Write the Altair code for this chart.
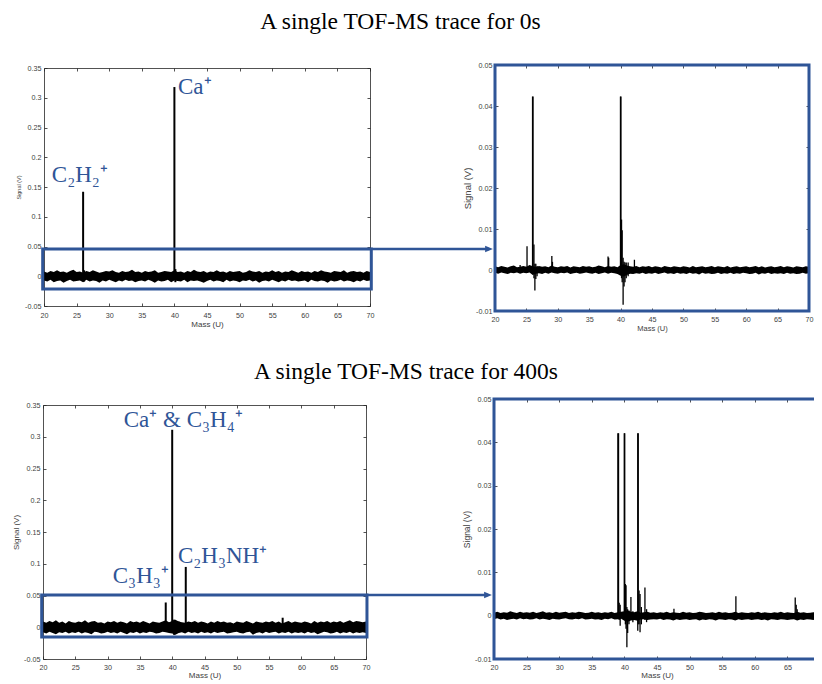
import altair as alt
import pandas as pd

W, H = 806, 676
BLUE = "#2F5597"
INK = "#262626"
LAB = "#404040"
SANS = "Liberation Sans"
SERIF = "Liberation Serif"

# ---------------- data ----------------
mass_grid = [20 + 0.5 * i for i in range(101)]
x_ticks = [20, 25, 30, 35, 40, 45, 50, 55, 60, 65, 70]
y_ticks_full = [-0.05, 0, 0.05, 0.1, 0.15, 0.2, 0.25, 0.3, 0.35]
y_ticks_zoom = [-0.01, 0, 0.01, 0.02, 0.03, 0.04, 0.05]

# noise envelope, 0 s trace, full scale (mV)
p1_hi = [8, 6, 9, 7, 10, 7, 8, 6, 9, 11,
         7, 8, 6, 9, 7, 10, 8, 6, 7, 9,
         8, 10, 7, 6, 9, 7, 8, 11, 7, 8,
         6, 9, 7, 8, 10, 6, 7, 9, 8, 7,
         10, 7, 8, 6, 9, 7, 11, 8, 7, 9,
         6, 8, 7, 10, 7, 8, 6, 9, 7, 8,
         9, 6, 7, 10, 8, 7, 9, 6, 8, 7,
         10, 7, 9, 6, 8, 7, 10, 8, 6, 9,
         7, 8, 6, 9, 7, 10, 8, 7, 6, 9,
         8, 7, 10, 6, 8, 9, 7, 8, 6, 9,
         7]
p1_lo = [-7, -9, -6, -10, -8, -7, -11, -8, -6, -9,
         -8, -7, -10, -6, -9, -7, -8, -11, -7, -9,
         -6, -8, -10, -7, -9, -6, -8, -7, -10, -8,
         -7, -9, -6, -8, -11, -7, -9, -8, -6, -10,
         -7, -8, -9, -6, -10, -7, -8, -7, -9, -11,
         -8, -6, -9, -7, -8, -10, -6, -9, -7, -8,
         -10, -7, -8, -6, -9, -7, -11, -8, -7, -9,
         -6, -8, -10, -7, -9, -6, -8, -7, -9, -8,
         -7, -10, -6, -8, -9, -7, -8, -11, -7, -9,
         -8, -6, -9, -7, -8, -10, -7, -9, -6, -8,
         -7]

# noise envelope, 0 s trace, zoomed (0.1 mV)
p2_hi = [9, 7, 10, 8, 6, 9, 11, 7, 8, 10,
         8, 12, 9, 7, 10, 8, 9, 7, 11, 8,
         7, 9, 8, 10, 6, 9, 8, 7, 10, 8,
         9, 7, 8, 11, 9, 7, 10, 8, 9, 7,
         12, 14, 11, 9, 8, 10, 7, 9, 8, 10,
         7, 9, 8, 6, 10, 8, 7, 9, 8, 7,
         9, 8, 6, 10, 7, 8, 9, 7, 8, 10,
         7, 9, 8, 7, 10, 6, 8, 9, 7, 8,
         9, 7, 8, 10, 7, 9, 6, 8, 9, 7,
         8, 10, 7, 9, 8, 6, 9, 8, 7, 9,
         8]
p2_lo = [-7, -9, -6, -8, -10, -7, -8, -6, -9, -7,
         -8, -6, -12, -9, -8, -10, -7, -9, -6, -8,
         -9, -7, -8, -6, -10, -8, -7, -9, -8, -6,
         -8, -9, -7, -10, -8, -6, -9, -7, -8, -10,
         -14, -16, -12, -9, -10, -8, -9, -7, -10, -8,
         -9, -7, -10, -8, -6, -9, -8, -10, -7, -9,
         -8, -10, -7, -9, -8, -11, -7, -9, -8, -10,
         -9, -7, -10, -8, -9, -7, -10, -8, -9, -7,
         -8, -10, -9, -7, -11, -8, -9, -7, -10, -8,
         -9, -8, -10, -7, -9, -8, -10, -9, -7, -9,
         -8]

# noise envelope, 400 s trace, full scale (mV)
p3_hi = [9, 7, 10, 8, 11, 7, 9, 6, 10, 8,
         7, 9, 8, 11, 7, 9, 10, 7, 8, 6,
         9, 8, 10, 7, 9, 8, 6, 10, 8, 9,
         7, 10, 8, 6, 9, 8, 7, 9, 11, 8,
         10, 12, 9, 8, 7, 9, 8, 10, 7, 9,
         8, 6, 9, 7, 10, 8, 9, 7, 8, 6,
         9, 8, 7, 10, 8, 6, 9, 8, 7, 9,
         8, 10, 7, 9, 6, 8, 10, 7, 9, 8,
         7, 9, 8, 6, 10, 7, 9, 8, 10, 7,
         9, 8, 10, 7, 9, 11, 8, 10, 9, 8,
         9]
p3_lo = [-8, -10, -7, -9, -11, -8, -9, -7, -10, -8,
         -9, -7, -10, -8, -9, -11, -7, -8, -10, -9,
         -7, -9, -8, -10, -7, -9, -11, -8, -9, -7,
         -10, -8, -9, -7, -8, -10, -9, -7, -8, -9,
         -10, -12, -9, -8, -10, -7, -9, -8, -10, -7,
         -9, -8, -10, -7, -9, -8, -7, -10, -9, -8,
         -7, -9, -10, -8, -7, -12, -9, -8, -10, -7,
         -9, -8, -7, -10, -8, -9, -7, -10, -8, -9,
         -8, -10, -7, -9, -8, -11, -9, -7, -8, -10,
         -9, -7, -10, -8, -9, -7, -10, -8, -9, -8,
         -9]

# noise envelope, 400 s trace, zoomed (0.1 mV)
p4_hi = [7, 9, 6, 8, 7, 10, 8, 6, 9, 7,
         8, 7, 9, 6, 8, 10, 7, 8, 6, 9,
         7, 8, 9, 6, 8, 7, 9, 8, 6, 7,
         9, 7, 8, 6, 8, 7, 9, 6, 8, 9,
         10, 12, 9, 8, 10, 7, 8, 9, 7, 8,
         6, 8, 7, 9, 6, 8, 7, 6, 9, 7,
         8, 6, 7, 9, 8, 6, 7, 8, 6, 9,
         7, 8, 6, 7, 9, 6, 8, 7, 6, 8,
         7, 9, 6, 8, 7, 6, 8, 7, 9, 6,
         8, 7, 6, 9, 7, 8, 6, 7, 8, 6,
         7]
p4_lo = [-8, -6, -9, -7, -10, -8, -7, -9, -6, -8,
         -7, -9, -8, -6, -9, -7, -8, -10, -7, -8,
         -9, -7, -6, -8, -9, -7, -8, -6, -9, -8,
         -7, -9, -8, -10, -7, -8, -6, -9, -8, -7,
         -12, -14, -11, -10, -12, -9, -8, -10, -9, -8,
         -9, -7, -10, -8, -9, -11, -8, -10, -9, -8,
         -10, -9, -8, -11, -9, -10, -8, -9, -11, -8,
         -9, -10, -8, -9, -11, -8, -10, -9, -8, -10,
         -9, -8, -10, -9, -11, -8, -9, -10, -8, -9,
         -10, -9, -8, -11, -9, -10, -8, -9, -10, -8,
         -9]

# spikes (mass, top, bottom) in V
p1_spk_mass = [26.0, 40.0, 40.15, 26.15]
p1_spk_top = [0.142, 0.318, 0.012, 0.010]
p1_spk_bot = [-0.004, -0.004, -0.010, -0.009]

p2_spk_mass = [24.0, 25.1, 25.98, 26.05, 26.2, 26.35, 26.5, 26.7, 29.05, 29.15, 38.0,
               38.1, 39.98, 40.05, 40.15, 40.25, 40.4, 40.55, 40.7, 40.9, 41.2, 42.2]
p2_spk_top = [0.0012, 0.0058, 0.0423, 0.0423, 0.0062, 0.0015, 0.0015, 0.001, 0.0034, 0.002,
              0.0033, 0.003, 0.0423, 0.0423, 0.0123, 0.0097, 0.003, 0.002, 0.0018, 0.0018,
              0.0018, 0.0025]
p2_spk_bot = [0, 0, -0.001, -0.001, -0.002, -0.005, -0.0022, -0.0015, 0, 0, 0, 0, -0.001,
              -0.001, -0.002, -0.003, -0.0085, -0.004, -0.003, -0.002, -0.0015, 0]

p3_spk_mass = [39.0, 40.0, 40.3, 40.6, 41.0, 42.1, 57.1]
p3_spk_top = [0.039, 0.311, 0.012, 0.008, 0.009, 0.095, 0.015]
p3_spk_bot = [-0.004, -0.004, -0.012, -0.010, -0.008, -0.004, 0]

p4_spk_mass = [39.0, 39.1, 39.2, 39.35, 39.98, 40.05, 40.15, 40.25, 40.38, 40.5, 40.7, 41.0,
               41.3, 42.05, 42.12, 42.25, 42.4, 42.6, 43.15, 43.4, 47.6, 57.1, 66.2, 66.35, 66.5]
p4_spk_top = [0.0421, 0.0421, 0.003, 0.0025, 0.0421, 0.0421, 0.0073, 0.007, 0.002, 0.0015,
              0.0012, 0.0043, 0.001, 0.0421, 0.0421, 0.0058, 0.005, 0.002, 0.0065, 0.0015,
              0.0016, 0.0045, 0.0042, 0.0025, 0.0015]
p4_spk_bot = [-0.0005, -0.0005, -0.001, -0.0023, -0.0005, -0.0005, -0.002, -0.003, -0.0073,
              -0.004, -0.002, -0.001, -0.0015, -0.0035, -0.002, -0.002, -0.0038, -0.002,
              -0.001, -0.0015, 0, 0, 0, -0.0005, -0.0005]

# peak labels (text, mass, signal)
p1_labels = ["C₂H₂⁺", "Ca⁺"]
p1_lab_mass = [21.2, 40.55]
p1_lab_sig = [0.159, 0.306]
p3_labels = ["Ca⁺ & C₃H₄⁺", "C₂H₃NH⁺", "C₃H₃⁺"]
p3_lab_mass = [32.5, 40.9, 30.8]
p3_lab_sig = [0.316, 0.1015, 0.069]

# zoom-region boxes (mass1, mass2, sig1, sig2)
p1_box = [19.8, 70.2, -0.0215, 0.046]
p3_box = [19.8, 70.15, -0.0154, 0.0508]

titles = ["A single TOF-MS trace for 0s", "A single TOF-MS trace for 400s"]

for arr in (p1_hi, p1_lo, p2_hi, p2_lo, p3_hi, p3_lo, p4_hi, p4_lo):
    assert len(arr) == 101, len(arr)

# ---------------- layout ----------------
panels = [
    dict(x0=36, x1=362, y0=60, y1=298, ydom=[-0.05, 0.35], yt=y_ticks_full, hi=p1_hi, lo=p1_lo,
         unit=1e-3, sm=p1_spk_mass, st=p1_spk_top, sb=p1_spk_bot, sw=2.0, lpx=5, tpx=2,
         yts=5.5, xts=8, box=p1_box, labs=(p1_labels, p1_lab_mass, p1_lab_sig)),
    dict(x0=487, x1=801, y0=57, y1=303, ydom=[-0.01, 0.05], yt=y_ticks_zoom, hi=p2_hi, lo=p2_lo,
         unit=1e-4, sm=p2_spk_mass, st=p2_spk_top, sb=p2_spk_bot, sw=1.3, lpx=4, tpx=2,
         yts=9.5, xts=7.5, box=None, labs=None),
    dict(x0=35, x1=358, y0=397, y1=651, ydom=[-0.05, 0.35], yt=y_ticks_full, hi=p3_hi, lo=p3_lo,
         unit=1e-3, sm=p3_spk_mass, st=p3_spk_top, sb=p3_spk_bot, sw=2.0, lpx=4, tpx=1,
         yts=8, xts=8, box=p3_box, labs=(p3_labels, p3_lab_mass, p3_lab_sig)),
    dict(x0=486, x1=812, y0=391, y1=651, ydom=[-0.01, 0.05], yt=y_ticks_zoom, hi=p4_hi, lo=p4_lo,
         unit=1e-4, sm=p4_spk_mass, st=p4_spk_top, sb=p4_spk_bot, sw=1.3, lpx=4, tpx=1,
         yts=8.5, xts=8, box=None, labs=None),
]

layers = []
for p in panels:
    xs = alt.Scale(domain=[20, 70], range=[p["x0"], p["x1"]], nice=False, zero=False)
    ys = alt.Scale(domain=p["ydom"], range=[p["y1"], p["y0"]], nice=False, zero=False)
    noise_df = pd.DataFrame({"mass": mass_grid,
                             "hi": [v * p["unit"] for v in p["hi"]],
                             "lo": [v * p["unit"] for v in p["lo"]]})
    spk_df = pd.DataFrame({"mass": p["sm"], "top": p["st"], "bot": p["sb"]})

    tick_style = dict(labels=False, grid=False, tickSize=3, tickWidth=0.8, tickColor=INK,
                      domainColor=INK, domainWidth=0.8, title=None)
    # inward ticks on bottom / left edges
    axA_x = alt.Axis(orient="top", offset=-p["y1"], values=x_ticks, domain=False, **tick_style)
    axA_y = alt.Axis(orient="right", offset=p["x0"] - W, values=p["yt"], domain=False, **tick_style)
    layers.append(alt.Chart(spk_df).mark_point(opacity=0).encode(
        x=alt.X("mass:Q", scale=xs, axis=axA_x), y=alt.Y("top:Q", scale=ys, axis=axA_y)))
    # box top / right edges with inward ticks
    axB_x = alt.Axis(orient="bottom", offset=p["y0"] - H, values=x_ticks, domain=True, **tick_style)
    axB_y = alt.Axis(orient="left", offset=-p["x1"], values=p["yt"], domain=True, **tick_style)
    layers.append(alt.Chart(spk_df).mark_point(opacity=0).encode(
        x=alt.X("mass:Q", scale=xs, axis=axB_x), y=alt.Y("top:Q", scale=ys, axis=axB_y)))

    # labelled axes on the noise band
    axL_x = alt.Axis(orient="bottom", offset=p["y1"] - H, values=x_ticks, ticks=False,
                     labelPadding=p["lpx"], domain=True, domainColor=INK, domainWidth=0.8,
                     grid=False, labelFont=SANS, labelFontSize=7.2, labelColor=LAB,
                     labelFlush=False, labelOverlap=False, title="Mass (U)", titleFont=SANS,
                     titleFontSize=p["xts"], titleFontWeight="normal", titleColor=LAB,
                     titlePadding=p["tpx"])
    axL_y = alt.Axis(orient="left", offset=-p["x0"], values=p["yt"], ticks=False,
                     labelPadding=3, domain=True, domainColor=INK, domainWidth=0.8,
                     grid=False, labelFont=SANS, labelFontSize=7.2, labelColor=LAB,
                     labelFlush=False, labelOverlap=False, labelExpr="'' + datum.value",
                     title="Signal (V)", titleFont=SANS, titleFontSize=p["yts"],
                     titleFontWeight="normal", titleColor=LAB, titlePadding=3)
    layers.append(alt.Chart(noise_df).mark_area(color="black").encode(
        x=alt.X("mass:Q", scale=xs, axis=axL_x),
        y=alt.Y("hi:Q", scale=ys, axis=axL_y),
        y2=alt.Y2("lo")))
    layers.append(alt.Chart(spk_df).mark_rule(color="black", strokeWidth=p["sw"]).encode(
        x=alt.X("mass:Q", scale=xs, axis=None),
        y=alt.Y("top:Q", scale=ys, axis=None),
        y2=alt.Y2("bot")))

    if p["box"] is not None:
        b = p["box"]
        box_df = pd.DataFrame({"m1": [b[0]], "m2": [b[1]], "s1": [b[2]], "s2": [b[3]]})
    else:
        box_df = pd.DataFrame({"m1": [20], "m2": [70], "s1": [p["ydom"][0]], "s2": [p["ydom"][1]]})
    layers.append(alt.Chart(box_df).mark_rect(fillOpacity=0, stroke=BLUE, strokeWidth=3).encode(
        x=alt.X("m1:Q", scale=xs, axis=None), x2=alt.X2("m2"),
        y=alt.Y("s1:Q", scale=ys, axis=None), y2=alt.Y2("s2")))

    if p["labs"] is not None:
        t, m, s = p["labs"]
        lab_df = pd.DataFrame({"label": t, "mass": m, "sig": s})
        layers.append(alt.Chart(lab_df).mark_text(
            align="left", baseline="alphabetic", font=SERIF, fontSize=23, color=BLUE).encode(
            x=alt.X("mass:Q", scale=xs, axis=None),
            y=alt.Y("sig:Q", scale=ys, axis=None),
            text="label:N"))

# row titles
title_pos = [(392.5, 21), (398, 371)]
for t, (tx, ty) in zip(titles, title_pos):
    layers.append(alt.Chart(pd.DataFrame({"t": [t]})).mark_text(
        font=SERIF, fontSize=23.5, color="black", align="center", baseline="alphabetic").encode(
        x=alt.value(tx), y=alt.value(ty), text="t:N"))

# connector arrows
arrow_pos = [(363, 481, 241), (359, 480, 587)]
for (ax0, ax1, ay) in arrow_pos:
    one = pd.DataFrame({"k": [0]})
    layers.append(alt.Chart(one).mark_rule(color=BLUE, strokeWidth=2.5).encode(
        x=alt.value(ax0), x2=alt.value(ax1), y=alt.value(ay)))
    layers.append(alt.Chart(one).mark_point(
        shape="M -1 -0.85 L 1 0 L -1 0.85 Z", filled=True, color=BLUE, size=60, opacity=1).encode(
        x=alt.value(ax1), y=alt.value(ay)))

chart = alt.layer(*layers).resolve_scale(x="independent", y="independent").properties(
    width=W, height=H, autosize=alt.AutoSizeParams(type="none"), padding=0
).configure_view(strokeWidth=0)

chart.save("out.html", embed_options={"renderer": "svg", "actions": False})
